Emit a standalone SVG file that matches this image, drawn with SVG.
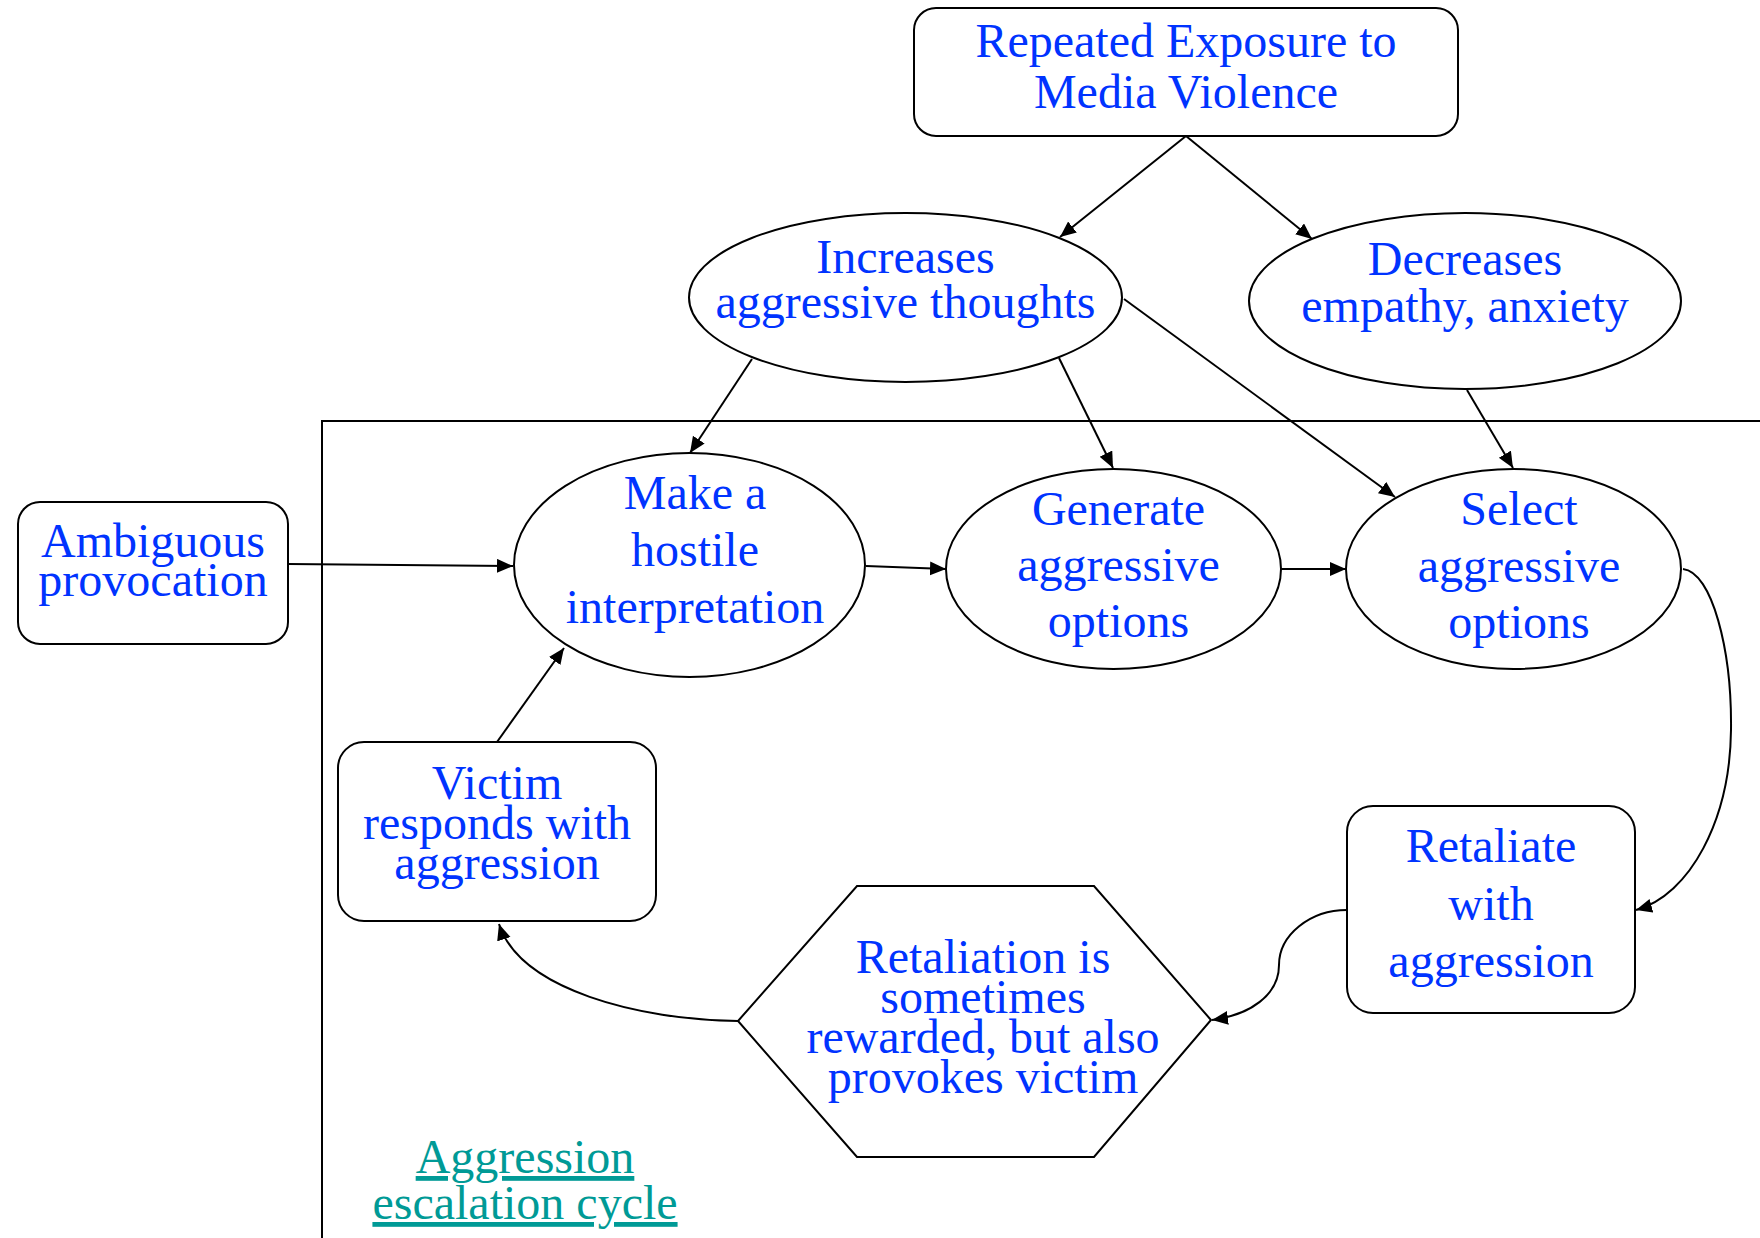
<svg xmlns="http://www.w3.org/2000/svg" width="1760" height="1238" viewBox="0 0 1760 1238">
<style>
.n{fill:#fff;stroke:#000;stroke-width:2}
.t{font-family:"Liberation Serif","Times New Roman",serif;font-size:48px;fill:#0033ff;text-anchor:middle}
.e{fill:none;stroke:#000;stroke-width:2;marker-end:url(#ah)}
.lbl{font-family:"Liberation Serif","Times New Roman",serif;font-size:48px;fill:#009a96;text-anchor:middle;text-decoration:underline}
</style>
<defs>
<marker id="ah" markerUnits="userSpaceOnUse" markerWidth="18" markerHeight="16" refX="16" refY="7" orient="auto">
<path d="M0,0 L16,7 L0,14 z" fill="#000"/>
</marker>
</defs>
<rect width="1760" height="1238" fill="#fff"/>
<g id="cluster">
<path d="M322,1240 L322,421 L1762,421" fill="none" stroke="#000" stroke-width="2"/>
<text class="lbl" x="525" y="1173">Aggression</text>
<text class="lbl" x="525" y="1219">escalation cycle</text>
</g>
<g id="connectors">
<path class="e" d="M1186,136 L1060,237"/>
<path class="e" d="M1186,136 L1312,239"/>
<path class="e" d="M752,359 L690,453"/>
<path class="e" d="M1059,358 L1113,468"/>
<path class="e" d="M1124,299 L1395,497"/>
<path class="e" d="M1467,390 L1513,468"/>
<path class="e" d="M288,564 L513,566"/>
<path class="e" d="M866,566 L946,569"/>
<path class="e" d="M1281,569 L1346,569"/>
<path class="e" d="M1683,569 C1712,572 1732,650 1731,730 C1730,820 1690,895 1636,910"/>
<path class="e" d="M1347,910 C1310,910 1279,935 1279,965 C1279,995 1250,1015 1212,1020"/>
<path class="e" d="M738,1021 C640,1020 520,990 499,924"/>
<path class="e" d="M497,742 L564,648"/>
</g>
<g id="media">
<rect class="n" x="914" y="8" width="544" height="128" rx="22"/>
<text class="t" x="1186" y="57">Repeated Exposure to</text>
<text class="t" x="1186" y="108">Media Violence</text>
</g>
<g id="increases">
<ellipse class="n" cx="905.5" cy="297.5" rx="216.5" ry="84.5"/>
<text class="t" x="905.5" y="273">Increases</text>
<text class="t" x="905.5" y="318">aggressive thoughts</text>
</g>
<g id="decreases">
<ellipse class="n" cx="1465" cy="301" rx="216" ry="88"/>
<text class="t" x="1465" y="275">Decreases</text>
<text class="t" x="1465" y="322">empathy, anxiety</text>
</g>
<g id="ambiguous">
<rect class="n" x="18" y="502" width="270" height="142" rx="22"/>
<text class="t" x="153" y="557">Ambiguous</text>
<text class="t" x="153" y="596">provocation</text>
</g>
<g id="hostile">
<ellipse class="n" cx="689.5" cy="565" rx="175.5" ry="112"/>
<text class="t" x="695" y="509">Make a</text>
<text class="t" x="695" y="566">hostile</text>
<text class="t" x="695" y="623">interpretation</text>
</g>
<g id="generate">
<ellipse class="n" cx="1113.5" cy="569" rx="167.5" ry="100"/>
<text class="t" x="1118.5" y="525">Generate</text>
<text class="t" x="1118.5" y="581">aggressive</text>
<text class="t" x="1118.5" y="637">options</text>
</g>
<g id="select">
<ellipse class="n" cx="1513.5" cy="569" rx="167.5" ry="100"/>
<text class="t" x="1519" y="525">Select</text>
<text class="t" x="1519" y="582">aggressive</text>
<text class="t" x="1519" y="638">options</text>
</g>
<g id="retaliate">
<rect class="n" x="1347" y="806" width="288" height="207" rx="26"/>
<text class="t" x="1491" y="862">Retaliate</text>
<text class="t" x="1491" y="920">with</text>
<text class="t" x="1491" y="977">aggression</text>
</g>
<g id="rewarded">
<polygon class="n" points="857,886 1094,886 1211,1020 1094,1157 857,1157 738,1021"/>
<text class="t" x="983" y="973">Retaliation is</text>
<text class="t" x="983" y="1013">sometimes</text>
<text class="t" x="983" y="1053">rewarded, but also</text>
<text class="t" x="983" y="1093">provokes victim</text>
</g>
<g id="victim">
<rect class="n" x="338" y="742" width="318" height="179" rx="26"/>
<text class="t" x="497" y="799">Victim</text>
<text class="t" x="497" y="839">responds with</text>
<text class="t" x="497" y="879">aggression</text>
</g>
</svg>
